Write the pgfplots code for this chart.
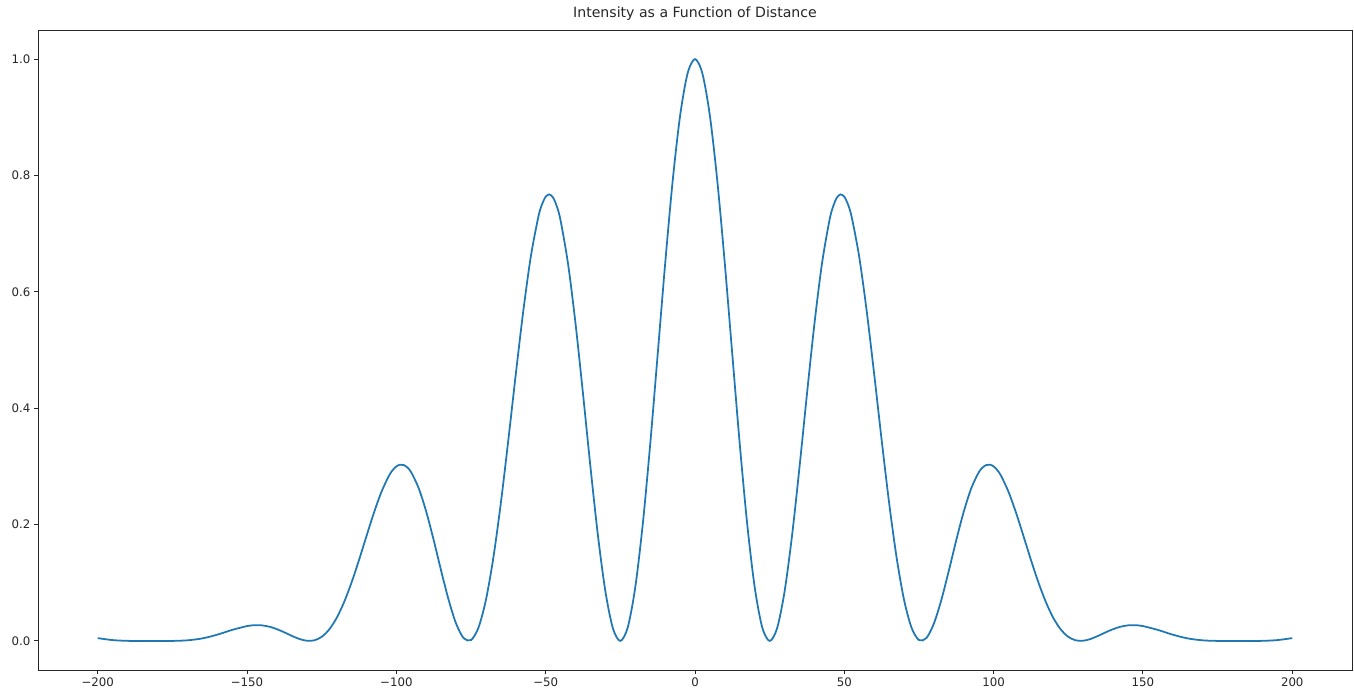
\documentclass[border=0pt]{standalone}
\usepackage{pgfplots}
\pgfplotsset{compat=1.18}
\usepackage{fontspec}
\setmainfont{DejaVu Sans}
\definecolor{mplblue}{HTML}{1F77B4}
\begin{document}
\begin{tikzpicture}
\begin{axis}[
  scale only axis, width=1314pt, height=640pt,
  xmin=-220, xmax=220, ymin=-0.05, ymax=1.05,
  xtick={-200,-150,-100,-50,0,50,100,150,200},
  xticklabels={−200,−150,−100,−50,0,50,100,150,200},
  ytick={0,0.2,0.4,0.6,0.8,1.0},
  yticklabels={0.0,0.2,0.4,0.6,0.8,1.0},
  tick pos=left, tick align=outside, major tick length=4.1pt,
  every tick/.style={black!85, line width=0.94pt},
  axis line style={black!85, line width=0.94pt},
  ticklabel style={font=\fontsize{11.76}{14}\selectfont, text=black!85},
  title={Intensity as a Function of Distance},
  title style={font=\fontsize{14.1}{17}\selectfont, text=black!85, yshift=0pt},
]
\addplot[mplblue, line width=1.76pt, smooth] coordinates {
(-200,0.0048)(-195,0.0014)(-190,0.0001)(-185,0.0000)(-180,0.0000)(-175,0.0000)(-170,0.0010)(-165,0.0043)(-160,0.0107)(-155,0.0189)
(-150,0.0255)(-147.5,0.0270)(-145,0.0267)(-142.5,0.0244)(-140,0.0202)(-137.5,0.0147)(-135,0.0087)(-132.5,0.0034)(-130,0.0003)(-127.5,0.0010)
(-125,0.0070)(-122.5,0.0196)(-120,0.0394)(-117.5,0.0667)(-115,0.1005)(-112.5,0.1391)(-110,0.1802)(-107.5,0.2204)(-105,0.2561)(-102.5,0.2837)
(-101.25,0.2934)(-100,0.2999)(-98.75,0.3029)(-97.5,0.3022)(-96.25,0.2978)(-95,0.2896)(-92.5,0.2622)(-90,0.2222)(-87.5,0.1733)(-85,0.1206)(-82.5,0.0706)(-80,0.0299)
(-77.5,0.0050)(-75,0.0015)(-72.5,0.0229)(-70,0.0707)(-67.5,0.1437)(-65,0.2375)(-62.5,0.3455)(-60,0.4587)(-57.5,0.5669)(-55,0.6598)
(-52.5,0.7278)(-51.25,0.7500)(-50,0.7634)(-48.75,0.7674)(-47.5,0.7618)(-46.25,0.7467)(-45,0.7223)(-42.5,0.6478)(-40,0.5452)(-37.5,0.4247)(-35,0.2988)(-32.5,0.1811)
(-30,0.0850)(-27.5,0.0219)(-25,0.0000)(-22.5,0.0236)(-20,0.0921)(-17.5,0.2001)(-15,0.3378)(-12.5,0.4921)(-10,0.6477)(-7.5,0.7893)
(-5,0.9021)(-2.5,0.9749)(0,1.0000)
(2.5,0.9749)(5,0.9021)(7.5,0.7893)(10,0.6477)(12.5,0.4921)(15,0.3378)(17.5,0.2001)(20,0.0921)(22.5,0.0236)(25,0.0000)
(27.5,0.0219)(30,0.0850)(32.5,0.1811)(35,0.2988)(37.5,0.4247)(40,0.5452)(42.5,0.6478)(45,0.7223)(46.25,0.7467)(47.5,0.7618)(48.75,0.7674)
(50,0.7634)(51.25,0.7500)(52.5,0.7278)(55,0.6598)(57.5,0.5669)(60,0.4587)(62.5,0.3455)(65,0.2375)(67.5,0.1437)(70,0.0707)(72.5,0.0229)
(75,0.0015)(77.5,0.0050)(80,0.0299)(82.5,0.0706)(85,0.1206)(87.5,0.1733)(90,0.2222)(92.5,0.2622)(95,0.2896)(96.25,0.2978)(97.5,0.3022)
(98.75,0.3029)(100,0.2999)(101.25,0.2934)(102.5,0.2837)(105,0.2561)(107.5,0.2204)(110,0.1802)(112.5,0.1391)(115,0.1005)(117.5,0.0667)(120,0.0394)
(122.5,0.0196)(125,0.0070)(127.5,0.0010)(130,0.0003)(132.5,0.0034)(135,0.0087)(137.5,0.0147)(140,0.0202)(142.5,0.0244)(145,0.0267)
(147.5,0.0270)(150,0.0255)(155,0.0189)(160,0.0107)(165,0.0043)(170,0.0010)(175,0.0000)(180,0.0000)(185,0.0000)(190,0.0001)
(195,0.0014)(200,0.0048)
};
\end{axis}
\pgfresetboundingbox
\path (-38pt,-21pt) rectangle (1316pt,670pt);
\end{tikzpicture}
\end{document}
